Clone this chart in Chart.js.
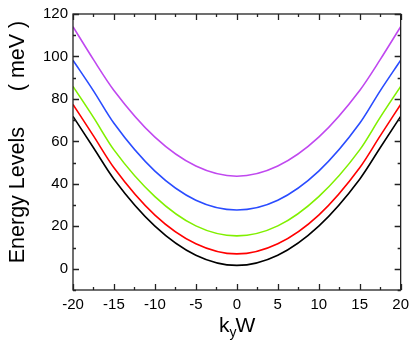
<!DOCTYPE html>
<html>
<head>
  <title>Energy Levels vs kyW</title>
  <meta charset="utf-8" />
  <script src="https://cdn.jsdelivr.net/npm/chart.js"></script>
  <style>
    body { margin: 0; padding: 0; background: #fff; }
    canvas { display: block; }
  </style>
</head>
<body>
  <canvas id="chart" width="415" height="346"></canvas>

  <script>
    // values (symmetric about kyW = 0)
    const kyW = [-20, -17.5, -15, -10, -5, 0, 5, 10, 15, 17.5, 20];
    const level1 = [71.8, 57.0, 42.2, 20.1, 6.4, 1.6, 6.4, 20.1, 42.2, 57.0, 71.8];
    const level2 = [77.4, 62.6, 47.6, 25.3, 11.8, 7.0, 11.8, 25.3, 47.6, 62.6, 77.4];
    const level3 = [85.9, 71.3, 56.0, 34.0, 20.2, 15.5, 20.2, 34.0, 56.0, 71.3, 85.9];
    const level4 = [98.2, 83.8, 68.5, 46.0, 32.3, 27.7, 32.3, 46.0, 68.5, 83.8, 98.2];
    const level5 = [114.0, 98.5, 84.0, 62.0, 48.4, 43.6, 48.4, 62.0, 84.0, 98.5, 114.0];

    const xTicks = [-20, -15, -10, -5, 0, 5, 10, 15, 20];
    const xMinor = [-17.5, -12.5, -7.5, -2.5, 2.5, 7.5, 12.5, 17.5];
    const yTicks = [0, 20, 40, 60, 80, 100, 120];
    const yMinor = [-10, 10, 30, 50, 70, 90, 110];

    const series = [
      { values: level1, color: '#000000' },
      { values: level2, color: '#ff0000' },
      { values: level3, color: '#80f000' },
      { values: level4, color: '#2a4cff' },
      { values: level5, color: '#c048f0' }
    ];

    const datasets = series.map(s => ({
      data: s.values.map((v, i) => ({ x: kyW[i], y: v })),
      borderColor: s.color,
      borderWidth: 1.6,
      pointRadius: 0,
      fill: false,
      cubicInterpolationMode: 'monotone'
    }));

    const FONT = 'Arial, "Liberation Sans", sans-serif';

    // frame, inward ticks on all four sides, axis titles
    const framePlugin = {
      id: 'frame',
      afterDraw(chart) {
        const ctx = chart.ctx;
        const a = chart.chartArea;
        const xs = chart.scales.x, ys = chart.scales.y;
        ctx.save();
        ctx.strokeStyle = '#222';
        ctx.lineWidth = 1.3;
        ctx.strokeRect(a.left, a.top, a.right - a.left, a.bottom - a.top);
        ctx.beginPath();
        const tickX = (vals, len) => vals.forEach(v => {
          const px = Math.round(xs.getPixelForValue(v)) + 0.5;
          ctx.moveTo(px, a.bottom); ctx.lineTo(px, a.bottom - len);
          ctx.moveTo(px, a.top); ctx.lineTo(px, a.top + len);
        });
        const tickY = (vals, len) => vals.forEach(v => {
          const py = Math.round(ys.getPixelForValue(v)) + 0.5;
          ctx.moveTo(a.left, py); ctx.lineTo(a.left + len, py);
          ctx.moveTo(a.right, py); ctx.lineTo(a.right - len, py);
        });
        tickX(xTicks, 6); tickX(xMinor, 3);
        tickY(yTicks, 6); tickY(yMinor, 3);
        ctx.stroke();

        // y title
        ctx.fillStyle = '#000';
        ctx.font = '21.5px ' + FONT;
        ctx.textAlign = 'center';
        ctx.textBaseline = 'middle';
        ctx.translate(18, 142);
        ctx.rotate(-Math.PI / 2);
        ctx.fillText('Energy Levels      ( meV )', 0, 0);
        ctx.setTransform(1, 0, 0, 1, 0, 0);

        // x title: k with subscript y, then W
        ctx.textAlign = 'left';
        ctx.textBaseline = 'alphabetic';
        ctx.font = '21px ' + FONT;
        let x = 219, base = 332;
        ctx.fillText('k', x, base);
        x += ctx.measureText('k').width;
        ctx.font = '14px ' + FONT;
        ctx.fillText('y', x, base + 5);
        x += ctx.measureText('y').width - 1;
        ctx.font = '21px ' + FONT;
        ctx.fillText('W', x, base);
        ctx.restore();
      }
    };

    const ctx = document.getElementById('chart').getContext('2d');
    const chart = new Chart(ctx, {
      type: 'line',
      data: { datasets: datasets },
      options: {
        responsive: false,
        animation: false,
        layout: { padding: { top: 13, right: 12, left: 0, bottom: 0 } },
        plugins: { legend: { display: false }, tooltip: { enabled: false } },
        scales: {
          x: {
            type: 'linear',
            min: -20, max: 20,
            afterBuildTicks: s => { s.ticks = xTicks.map(v => ({ value: v })); },
            afterFit: s => { s.height = 56; },
            grid: { display: false, drawTicks: false },
            border: { display: false },
            ticks: { color: '#000', font: { size: 15, family: FONT }, padding: 6, maxRotation: 0 }
          },
          y: {
            min: -10, max: 120,
            afterBuildTicks: s => { s.ticks = yTicks.map(v => ({ value: v })); },
            afterFit: s => { s.width = 73; },
            grid: { display: false, drawTicks: false },
            border: { display: false },
            ticks: { color: '#000', font: { size: 15, family: FONT }, padding: 5 }
          }
        }
      },
      plugins: [framePlugin]
    });
  </script>
</body>
</html>
